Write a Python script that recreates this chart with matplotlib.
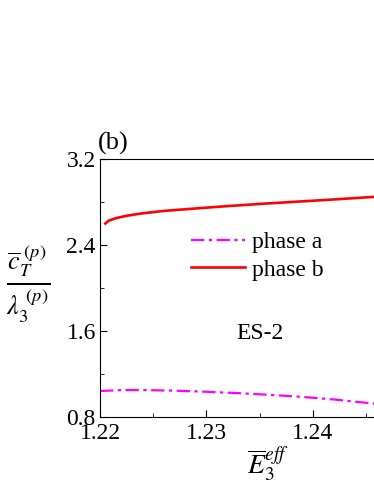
import matplotlib
matplotlib.use("Agg")
import matplotlib.pyplot as plt
from matplotlib.ticker import MultipleLocator

# valores
e_a = [1.2200, 1.2220, 1.2240, 1.2270, 1.2300, 1.2330, 1.2360, 1.2390, 1.2420, 1.2450, 1.2480]
c_a = [1.042, 1.050, 1.051, 1.045, 1.035, 1.022, 1.006, 0.987, 0.963, 0.932, 0.900]

e_b = [1.2205, 1.2208, 1.2215, 1.2225, 1.2240, 1.2260, 1.2290, 1.2320, 1.2350, 1.2390, 1.2420, 1.2450, 1.2480]
c_b = [2.600, 2.625, 2.650, 2.672, 2.695, 2.717, 2.740, 2.762, 2.782, 2.806, 2.824, 2.843, 2.860]

plt.rcParams['font.family'] = ['Liberation Serif', 'DejaVu Serif']
plt.rcParams['mathtext.fontset'] = 'stix'

fig = plt.figure(figsize=(3.74, 4.84), dpi=100)
ax = fig.add_axes([0.2674, 0.1384, 0.854, 0.5331])

ax.plot(e_a, c_a, color='magenta', linestyle=(0, (6, 2, 1.5, 2)), linewidth=1.6, label='phase a')
ax.plot(e_b, c_b, color='red', linestyle='-', linewidth=1.9, label='phase b')

ax.set_xlim(1.22, 1.25)
ax.set_ylim(0.8, 3.2)
ax.xaxis.set_minor_locator(MultipleLocator(0.005))
ax.yaxis.set_minor_locator(MultipleLocator(0.4))
ax.set_xticks([1.22, 1.23, 1.24])
ax.set_xticklabels(['1.22', '1.23', '1.24'])
ax.set_yticks([0.8, 1.6, 2.4, 3.2])
ax.set_yticklabels(['0.8', '1.6', '2.4', '3.2'])
ax.tick_params(which='both', direction='in', top=False, right=False, labelsize=17)
ax.tick_params(axis='x', pad=4)
ax.tick_params(axis='y', pad=3)
ax.tick_params(which='major', length=5)
ax.tick_params(which='minor', length=3)
ax.spines['right'].set_visible(False)

ax.legend(loc='upper left', bbox_to_anchor=(0.255, 0.755), frameon=False, fontsize=17,
          handlelength=2.3, handletextpad=0.3, labelspacing=0.25, borderaxespad=0)

ax.text(0.50, 0.325, 'ES-2', transform=ax.transAxes, fontsize=17, ha='center', va='center')
fig.text(0.262, 0.703, '(b)', fontsize=19, ha='left', va='center')

fig.text(0.075, 0.415, r'$\frac{\overline{c}_T^{\ (p)}}{\lambda_3^{\ (p)}}$', fontsize=27,
         ha='center', va='center')
fig.text(0.715, 0.04, r'$\overline{E}_3^{eff}$', fontsize=20, ha='center', va='center')

fig.savefig('out.png', dpi=100)
